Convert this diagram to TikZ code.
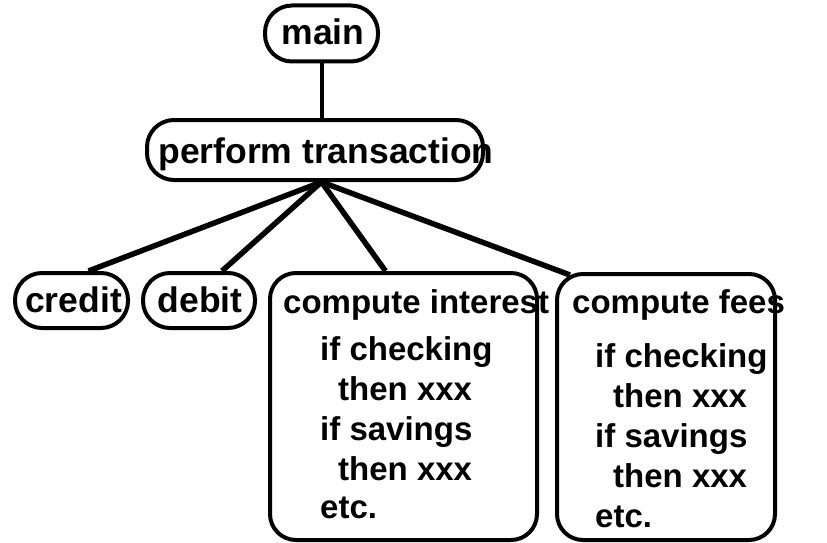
\documentclass[tikz,border=0pt]{standalone}
\usepackage{fontspec}
\setmainfont{Liberation Sans}
\usetikzlibrary{calc}
\begin{document}
\begin{tikzpicture}[x=1pt,y=-1pt,
  pill/.style={draw,line width=4pt,rounded corners=27pt,inner sep=0pt},
  bigbox/.style={draw,line width=4pt,rounded corners=26pt,inner sep=0pt},
  big/.style={font=\fontsize{35.5}{40}\selectfont\bfseries,inner sep=0pt,anchor=base},
  small/.style={font=\fontsize{33}{40}\selectfont\bfseries,inner sep=0pt,anchor=base west},
  link/.style={line width=5.5pt},
  thinlink/.style={line width=4pt}]
\useasboundingbox (0,0) rectangle (827,543);
% shapes
\node[pill,minimum width=113pt,minimum height=56pt] (mn) at (321.5,33.5) {};
\node[pill,minimum width=336pt,minimum height=60pt] (pt) at (315,150) {};
\node[pill,minimum width=113pt,minimum height=55pt] (cr) at (71.5,300.5) {};
\node[pill,minimum width=112pt,minimum height=55pt] (db) at (199,300.5) {};
\node[bigbox,minimum width=267pt,minimum height=267pt] (ci) at (403.5,406.5) {};
\node[bigbox,minimum width=218pt,minimum height=266pt] (cf) at (666,407) {};
% texts
\node[big] (tmn) at (323,45) {main};
\node[big] (tpt) at (326,163) {perform transaction};
\node[big] (tcr) at (73.5,312) {credit};
\node[big] (tdb) at (200,312) {debit};
\node[small] (tci) at (283,313) {compute interest};
\node[small] (ci1) at (320,360) {if checking};
\node[small] (ci2) at (338,400) {then xxx};
\node[small] (ci3) at (320,440) {if savings};
\node[small] (ci4) at (338,480) {then xxx};
\node[small] (ci5) at (320,518) {etc.};
\node[small] (tcf) at (572,313) {compute fees};
\node[small] (cf1) at (595,367) {if checking};
\node[small] (cf2) at (613,407) {then xxx};
\node[small] (cf3) at (595,447) {if savings};
\node[small] (cf4) at (613,487) {then xxx};
\node[small] (cf5) at (595,527) {etc.};
% connectors
\coordinate (hub) at (pt.south -| mn.south);
\coordinate (ecr) at ($(cr.north)+(17,0)$);
\coordinate (edb) at ($(db.north)+(23,0)$);
\coordinate (eci) at ($(ci.north)+(-18,0)$);
\coordinate (ecf) at ($(cf.north west)+(15,3)$);
\draw[thinlink] (mn.south) -- (mn.south |- pt.north);
\draw[link] (hub) -- (ecr);
\draw[link] (hub) -- (edb);
\draw[link] (hub) -- (eci);
\draw[link] (hub) -- (ecf);
\end{tikzpicture}
\end{document}
